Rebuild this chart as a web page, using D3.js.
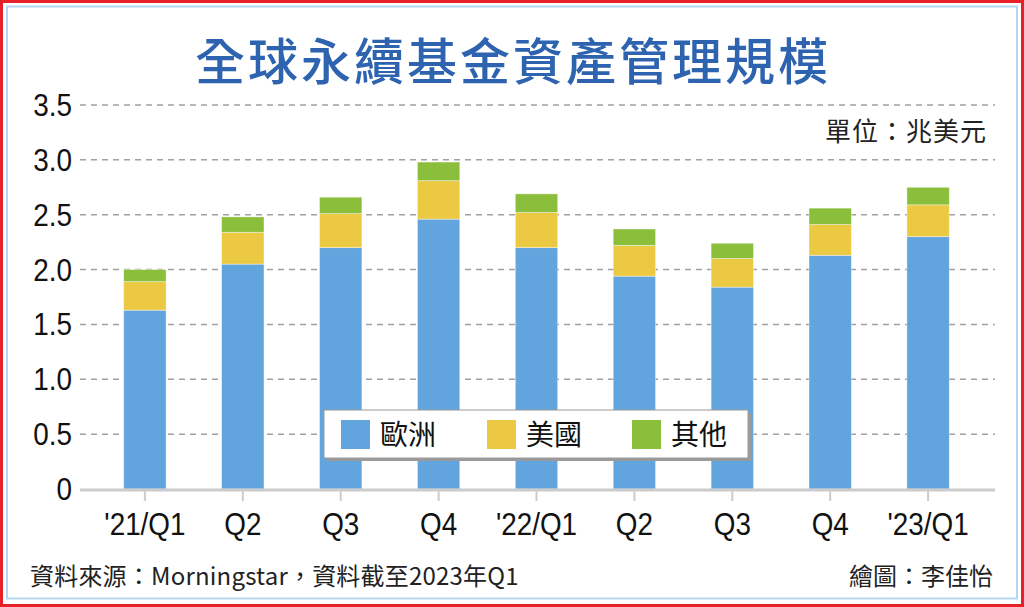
<!DOCTYPE html>
<html>
<head>
<meta charset="utf-8">
<style>
  body { margin: 0; background: #fff; }
  svg text { font-family: "Liberation Sans", Arial, sans-serif; }
  .cjk { font-family: "Noto Sans CJK TC", "Noto Sans CJK SC", sans-serif; }
</style>
</head>
<body>
<svg id="chart" width="1024" height="607"></svg>
<script src="https://d3js.org/d3.v7.min.js"></script>
<script>
// quarters, trillion USD
const quarters = ["'21/Q1", "Q2", "Q3", "Q4", "'22/Q1", "Q2 ", "Q3 ", "Q4 ", "'23/Q1"];
const europe = [1.63, 2.05, 2.20, 2.46, 2.20, 1.94, 1.84, 2.13, 2.30];
const usa    = [0.26, 0.29, 0.31, 0.35, 0.32, 0.28, 0.26, 0.28, 0.29];
const other  = [0.11, 0.14, 0.15, 0.17, 0.17, 0.15, 0.14, 0.15, 0.16];
const seriesNames = ["歐洲", "美國", "其他"];
const colors = ["#62a5de", "#ebc943", "#8bbf3b"];
const yTicks = [0, 0.5, 1.0, 1.5, 2.0, 2.5, 3.0, 3.5];

const svg = d3.select("#chart");

// frames
svg.append("rect").attr("x", 1.5).attr("y", 1.5).attr("width", 1021).attr("height", 604)
  .attr("fill", "none").attr("stroke", "#e8202a").attr("stroke-width", 3);
svg.append("rect").attr("x", 7).attr("y", 6.5).attr("width", 1010).attr("height", 592)
  .attr("fill", "none").attr("stroke", "#b4d6f2").attr("stroke-width", 2);

// title
svg.append("text").attr("class", "cjk")
  .attr("x", 513).attr("y", 80).attr("text-anchor", "middle")
  .attr("font-size", 50).attr("font-weight", 500).attr("fill", "#2e63b0")
  .attr("letter-spacing", 3)
  .text("全球永續基金資產管理規模");

const x = d3.scaleBand().domain(quarters).range([96, 977]).paddingInner(0.567).paddingOuter(0.283);
const y = d3.scaleLinear().domain([0, 3.5]).range([489, 105]);

// grid
svg.append("g").selectAll("line").data(yTicks.filter(d => d > 0)).join("line")
  .attr("x1", 80).attr("x2", 995)
  .attr("y1", d => y(d)).attr("y2", d => y(d))
  .attr("stroke", "#a0a0a0").attr("stroke-width", 1.5).attr("stroke-dasharray", "6,5");

// y labels (slightly condensed)
svg.append("g").selectAll("text").data(yTicks).join("text")
  .attr("transform", d => `translate(72,${y(d) + 11}) scale(0.9,1)`)
  .attr("text-anchor", "end")
  .attr("font-size", 31).attr("fill", "#111")
  .text(d => d === 0 ? "0" : d.toFixed(1));

// unit
svg.append("text").attr("class", "cjk")
  .attr("x", 987).attr("y", 141).attr("text-anchor", "end")
  .attr("font-size", 26).attr("letter-spacing", 1).attr("fill", "#222").text("單位：兆美元");

// stacked bars
const rows = quarters.map((q, i) => ({ q, 0: europe[i], 1: usa[i], 2: other[i] }));
const stack = d3.stack().keys([0, 1, 2])(rows);
svg.append("g").selectAll("g").data(stack).join("g")
  .attr("fill", (d, i) => colors[i])
  .selectAll("rect").data(d => d).join("rect")
  .attr("x", d => x(d.data.q))
  .attr("width", x.bandwidth())
  .attr("y", d => y(d[1]))
  .attr("height", d => y(d[0]) - y(d[1]))
  .attr("stroke", "#ffffff").attr("stroke-opacity", 0.5).attr("stroke-width", 0.8);

// baseline and ticks
svg.append("line").attr("x1", 80).attr("x2", 995).attr("y1", y(0) + 1).attr("y2", y(0) + 1)
  .attr("stroke", "#cccccc").attr("stroke-width", 3);
svg.append("g").selectAll("line").data(quarters).join("line")
  .attr("x1", d => x(d) + x.bandwidth() / 2).attr("x2", d => x(d) + x.bandwidth() / 2)
  .attr("y1", y(0) + 2).attr("y2", y(0) + 12)
  .attr("stroke", "#cccccc").attr("stroke-width", 2);

// x labels (condensed)
svg.append("g").selectAll("text").data(quarters).join("text")
  .attr("transform", d => `translate(${x(d) + x.bandwidth() / 2},535) scale(0.87,1)`)
  .attr("text-anchor", "middle")
  .attr("font-size", 32).attr("fill", "#111")
  .text(d => d.trim());

// legend
const lg = svg.append("g");
lg.append("rect").attr("x", 327).attr("y", 413).attr("width", 425).attr("height", 48).attr("fill", "#9a9a9a");
lg.append("rect").attr("x", 324).attr("y", 410).attr("width", 424).attr("height", 48)
  .attr("fill", "#fff").attr("stroke", "#9a9a9a").attr("stroke-width", 1);
const lx = [341, 487, 632];
seriesNames.forEach((name, i) => {
  lg.append("rect").attr("x", lx[i]).attr("y", 420).attr("width", 29).attr("height", 29).attr("fill", colors[i]);
  lg.append("text").attr("class", "cjk").attr("x", lx[i] + 39).attr("y", 445)
    .attr("font-size", 28).attr("fill", "#111").text(name);
});

// footer
svg.append("text").attr("class", "cjk").attr("x", 30).attr("y", 585)
  .attr("font-size", 24).attr("letter-spacing", 0.2).attr("fill", "#222").text("資料來源：Morningstar，資料截至2023年Q1");
svg.append("text").attr("class", "cjk").attr("x", 993).attr("y", 585).attr("text-anchor", "end")
  .attr("font-size", 24).attr("fill", "#222").text("繪圖：李佳怡");
</script>
</body>
</html>
